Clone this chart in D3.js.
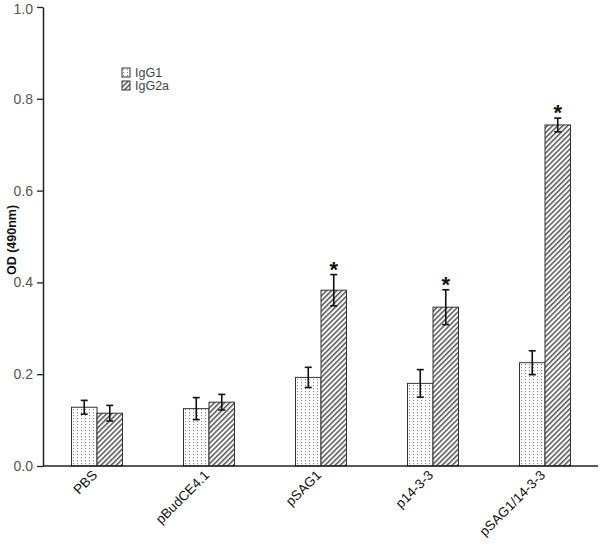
<!DOCTYPE html>
<html>
<head>
<meta charset="utf-8">
<script src="https://cdn.jsdelivr.net/npm/d3@7"></script>
<style>
  body { margin: 0; background: #fff; }
  text { font-family: "Liberation Sans", Arial, sans-serif; }
</style>
</head>
<body>
<div class="chart"></div>
<script>
const groups = ["PBS", "pBudCE4.1", "pSAG1", "p14-3-3", "pSAG1/14-3-3"];
const series = ["IgG1", "IgG2a"];
const igg1 = [0.128, 0.125, 0.193, 0.180, 0.225];
const igg1Err = [0.015, 0.024, 0.022, 0.030, 0.026];
const igg2a = [0.115, 0.139, 0.383, 0.346, 0.743];
const igg2aErr = [0.017, 0.017, 0.034, 0.038, 0.015];
const starred = [false, false, true, true, true];
const yTicks = [0, 0.2, 0.4, 0.6, 0.8, 1.0];

const width = 600, height = 546;

const svg = d3.select('.chart').append('svg')
    .attr('width', width)
    .attr('height', height);

const defs = svg.append('defs');
const dots = defs.append('pattern')
    .attr('id', 'dots')
    .attr('patternUnits', 'userSpaceOnUse')
    .attr('width', 4).attr('height', 3);
dots.append('rect').attr('width', 4).attr('height', 3).attr('fill', '#fff');
dots.append('rect').attr('x', 1).attr('y', 1).attr('width', 1).attr('height', 1.2).attr('fill', '#8a8a8a');

const hatch = defs.append('pattern')
    .attr('id', 'hatch')
    .attr('patternUnits', 'userSpaceOnUse')
    .attr('width', 3.6).attr('height', 10)
    .attr('patternTransform', 'rotate(45)');
hatch.append('rect').attr('width', 3.6).attr('height', 10).attr('fill', '#fff');
hatch.append('line').attr('x1', 0.8).attr('x2', 0.8).attr('y1', 0).attr('y2', 10)
    .attr('stroke', '#3a3a3a').attr('stroke-width', 1.3);

const xScale = d3.scaleBand()
    .domain(groups)
    .range([41, 601]);

const yScale = d3.scaleLinear()
    .domain([0, 1])
    .range([466, 7]);

const barW = 25.5;
const fills = {IgG1: 'url(#dots)', IgG2a: 'url(#hatch)'};

const rows = [];
groups.forEach((g, i) => {
    rows.push({g: g, s: 'IgG1', v: igg1[i], e: igg1Err[i], star: false, off: -barW});
    rows.push({g: g, s: 'IgG2a', v: igg2a[i], e: igg2aErr[i], star: starred[i], off: 0});
});

const cx = d => xScale(d.g) + xScale.bandwidth() / 2 + d.off;

svg.selectAll('.bar')
    .data(rows)
    .enter()
    .append('rect')
    .attr('class', 'bar')
    .attr('x', d => cx(d))
    .attr('y', d => yScale(d.v))
    .attr('width', barW)
    .attr('height', d => yScale(0) - yScale(d.v))
    .attr('fill', d => fills[d.s])
    .attr('stroke', '#333')
    .attr('stroke-width', 1);

// error bars
const err = svg.selectAll('.err')
    .data(rows)
    .enter()
    .append('g')
    .attr('class', 'err')
    .attr('stroke', '#111')
    .attr('stroke-width', 1.6);
err.append('line')
    .attr('x1', d => cx(d) + barW / 2).attr('x2', d => cx(d) + barW / 2)
    .attr('y1', d => yScale(d.v + d.e)).attr('y2', d => yScale(d.v - d.e));
err.append('line')
    .attr('x1', d => cx(d) + barW / 2 - 3.5).attr('x2', d => cx(d) + barW / 2 + 3.5)
    .attr('y1', d => yScale(d.v + d.e)).attr('y2', d => yScale(d.v + d.e));
err.append('line')
    .attr('x1', d => cx(d) + barW / 2 - 3.5).attr('x2', d => cx(d) + barW / 2 + 3.5)
    .attr('y1', d => yScale(d.v - d.e)).attr('y2', d => yScale(d.v - d.e));

svg.selectAll('.star')
    .data(rows.filter(d => d.star))
    .enter()
    .append('text')
    .attr('class', 'star')
    .attr('x', d => cx(d) + barW / 2)
    .attr('y', d => yScale(d.v + d.e) + 2)
    .attr('text-anchor', 'middle')
    .attr('font-size', 22)
    .attr('font-weight', 'bold')
    .attr('fill', '#111')
    .text('*');

// y axis
const yAxis = d3.axisLeft(yScale)
    .tickValues(yTicks)
    .tickFormat(d3.format('.1f'))
    .tickSize(6)
    .tickSizeOuter(0);

const yg = svg.append('g')
    .attr('transform', 'translate(43,0)')
    .call(yAxis);
yg.select('.domain').attr('stroke', '#222').attr('stroke-width', 1.5);
yg.selectAll('.tick line').attr('stroke', '#222').attr('stroke-width', 1.3);
yg.selectAll('.tick text')
    .attr('font-size', 14)
    .attr('fill', '#555')
    .attr('font-family', '"Liberation Sans", Arial, sans-serif')
    .attr('dx', -1)
    .attr('dy', d => d === 1 ? '0.45em' : '0.32em');

// x axis line
svg.append('line')
    .attr('x1', 43).attr('x2', 598)
    .attr('y1', yScale(0)).attr('y2', yScale(0))
    .attr('stroke', '#222').attr('stroke-width', 1.5);

svg.selectAll('.xlab')
    .data(groups)
    .enter()
    .append('text')
    .attr('class', 'xlab')
    .attr('text-anchor', 'end')
    .attr('font-size', 13.5)
    .attr('fill', '#111')
    .attr('transform', d => 'translate(' + (xScale(d) + xScale.bandwidth() / 2 + 1) + ',' + (yScale(0) + 10) + ') rotate(-45)')
    .text(d => d);

svg.append('text')
    .attr('transform', 'translate(16,240) rotate(-90)')
    .attr('text-anchor', 'middle')
    .attr('font-size', 12.5)
    .attr('font-weight', 'bold')
    .attr('fill', '#111')
    .text('OD (490nm)');

// legend
const legend = svg.selectAll('.legend')
    .data(series)
    .enter()
    .append('g')
    .attr('class', 'legend')
    .attr('transform', (d, i) => 'translate(122,' + (68 + i * 13) + ')');
legend.append('rect')
    .attr('width', 8).attr('height', 9)
    .attr('fill', d => fills[d])
    .attr('stroke', '#333');
legend.append('text')
    .attr('x', 13).attr('y', 9)
    .attr('font-size', 12.5)
    .attr('fill', '#444')
    .text(d => d);
</script>
</body>
</html>
